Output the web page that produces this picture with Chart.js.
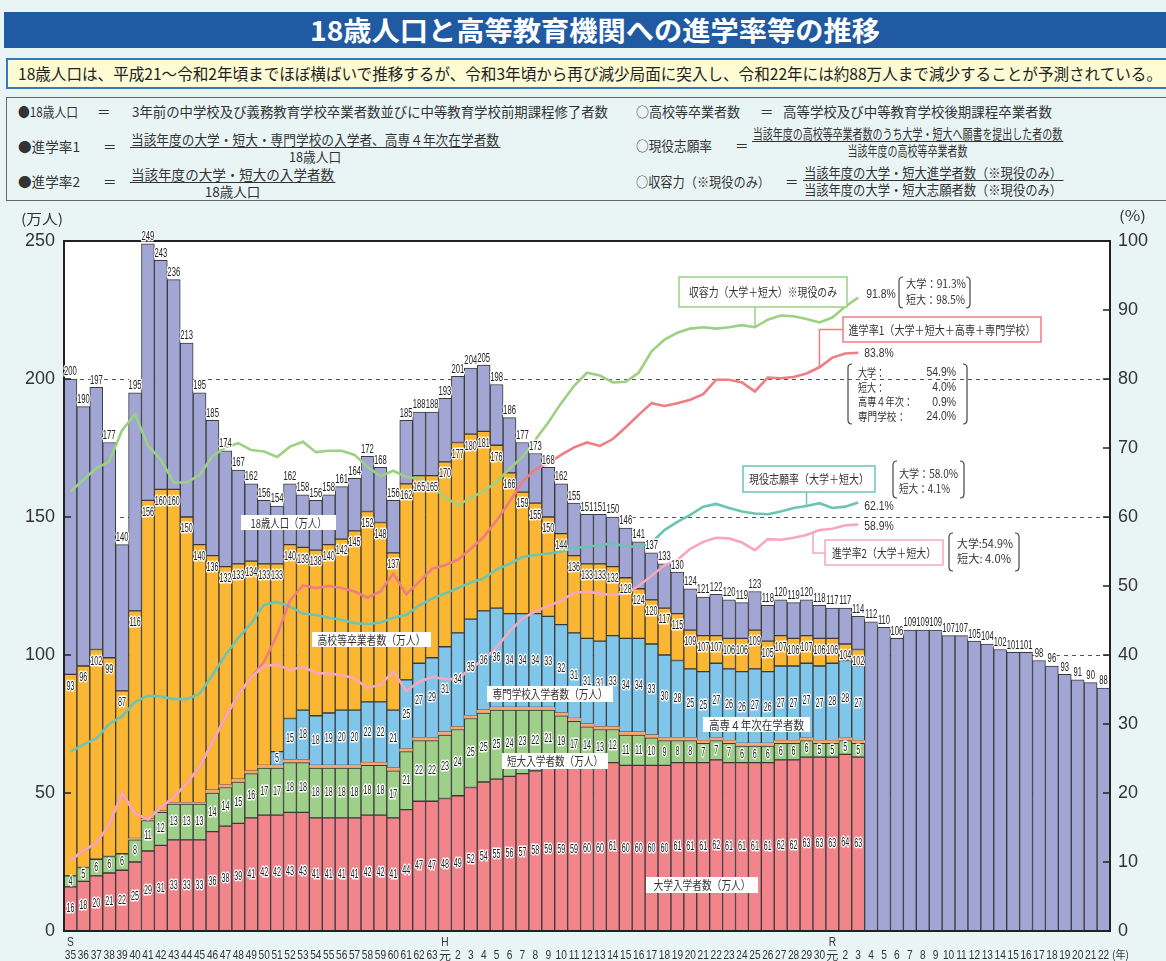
<!DOCTYPE html>
<html lang="ja">
<head>
<meta charset="utf-8">
<title>18歳人口と高等教育機関への進学率等の推移</title>
<script src="https://cdn.jsdelivr.net/npm/chart.js@4.4.1/dist/chart.umd.min.js"></script>
<style>
  html, body { margin: 0; padding: 0; }
  body { width: 1166px; height: 961px; background: #e9f5f5; overflow: hidden; position: relative;
         font-family: "Noto Sans CJK JP", "Noto Sans", sans-serif; color: #333; }
  .band { position: absolute; left: 4px; top: 12px; width: 1170px; height: 36px; background: #1f5aa2; }
  .lead { position: absolute; left: 6px; top: 58px; width: 1170px; height: 27px; background: #fffbd2; border: 2px solid #3a78bd; }
  .defs { position: absolute; left: 6px; top: 97px; width: 1170px; height: 102px; border: 1.5px solid #666; }
  .t { position: absolute; font-size: 13.5px; line-height: 16px; white-space: nowrap; transform-origin: left center; }
  .frac { position: absolute; font-size: 13.5px; line-height: 16px; white-space: nowrap; text-align: center; transform-origin: left center; }
  .frac .n { border-bottom: 1px solid #333; padding: 0 1px; }
  #wrap { position: absolute; left: 0; top: 205px; width: 1166px; height: 756px; }
</style>
</head>
<body>
<div class="band"></div>
<div class="t" data-w="570" style="left:310px;top:12px;line-height:36px;font-size:27px;font-weight:bold;color:#fff;">18歳人口と高等教育機関への進学率等の推移</div>

<div class="lead"></div>
<div class="t" data-w="1144" style="left:18px;top:60px;line-height:27px;font-size:16px;color:#222;">18歳人口は、平成21～令和2年頃までほぼ横ばいで推移するが、令和3年頃から再び減少局面に突入し、令和22年には約88万人まで減少することが予測されている。</div>

<div class="defs"></div>
<div class="t" data-w="60" style="left:18px;top:103px;">●18歳人口</div>
<div class="t" style="left:97px;top:103px;">＝</div>
<div class="t" data-w="476" style="left:132px;top:103px;">3年前の中学校及び義務教育学校卒業者数並びに中等教育学校前期課程修了者数</div>
<div class="t" data-w="104" style="left:636px;top:103px;">○高校等卒業者数</div>
<div class="t" style="left:760px;top:103px;">＝</div>
<div class="t" data-w="269" style="left:783px;top:103px;">高等学校及び中等教育学校後期課程卒業者数</div>

<div class="t" data-w="62" style="left:18px;top:138px;">●進学率1</div>
<div class="t" style="left:103px;top:138px;">＝</div>
<div class="frac" data-w="370" style="left:130px;top:131px;"><div class="n">当該年度の大学・短大・専門学校の入学者、高専４年次在学者数</div><div>18歳人口</div></div>
<div class="t" data-w="76" style="left:636px;top:137px;">○現役志願率</div>
<div class="t" style="left:735px;top:137px;">＝</div>
<div class="frac" data-w="311" style="left:752px;top:125px;"><div class="n">当該年度の高校等卒業者数のうち大学・短大へ願書を提出した者の数</div><div>当該年度の高校等卒業者数</div></div>

<div class="t" data-w="62" style="left:18px;top:173px;">●進学率2</div>
<div class="t" style="left:103px;top:173px;">＝</div>
<div class="frac" data-w="205" style="left:130px;top:166px;"><div class="n">当該年度の大学・短大の入学者数</div><div>18歳人口</div></div>
<div class="t" data-w="134" style="left:636px;top:173px;">○収容力（※現役のみ）</div>
<div class="t" style="left:785px;top:173px;">＝</div>
<div class="frac" data-w="260" style="left:803px;top:164px;"><div class="n">当該年度の大学・短大進学者数（※現役のみ）</div><div>当該年度の大学・短大志願者数（※現役のみ）</div></div>

<div id="wrap"><canvas id="c" width="1166" height="756"></canvas></div>

<script>
// squeeze header texts to the widths they take in the original
document.querySelectorAll('[data-w]').forEach(el => {
  const w = el.getBoundingClientRect().width;
  el.style.transform = 'scaleX(' + (Number(el.dataset.w) / w) + ')';
});

const categories = [
  'S35','S36','S37','S38','S39','S40','S41','S42','S43','S44','S45','S46','S47','S48','S49',
  'S50','S51','S52','S53','S54','S55','S56','S57','S58','S59','S60','S61','S62','S63',
  'H1','H2','H3','H4','H5','H6','H7','H8','H9','H10','H11','H12','H13','H14','H15',
  'H16','H17','H18','H19','H20','H21','H22','H23','H24','H25','H26','H27','H28','H29','H30',
  'R1','R2','R3','R4','R5','R6','R7','R8','R9','R10','R11','R12','R13','R14','R15',
  'R16','R17','R18','R19','R20','R21','R22'
];

// 18歳人口（万人）
const population = [
  200,190,197,177,140,195,249,243,236,213,195,185,174,167,162,156,154,162,158,156,158,161,164,172,168,156,185,188,188,
  193,201,204,205,198,186,177,173,168,162,155,151,151,150,146,141,137,133,130,124,121,122,120,119,123,118,120,119,120,118,
  117,117,114,112,110,106,109,109,109,107,107,105,104,102,101,101,98,96,93,91,90,88
];
// 高校等卒業者数（万人）
const graduates = [
  93,96,102,99,87,116,156,160,160,150,140,136,132,133,134,133,133,140,139,138,140,142,145,152,148,137,162,165,165,
  170,177,180,181,176,166,159,155,150,144,136,133,133,132,128,124,120,117,115,109,107,107,106,106,109,105,107,106,107,106,
  106,104,102
];
// 大学入学者数（万人）
const univ = [
  16,18,20,21,22,25,29,31,33,33,33,36,38,39,41,42,42,43,43,41,41,41,41,42,42,41,44,47,47,
  48,49,52,54,55,56,57,58,59,59,59,60,60,61,60,60,60,60,61,61,61,62,61,61,61,61,62,62,63,63,
  63,64,63
];
// 短大入学者数（万人）
const junior = [
  4,5,6,6,6,8,11,12,13,13,13,14,14,15,16,17,17,18,18,18,18,18,18,18,18,17,21,22,22,
  23,24,25,25,25,24,23,22,21,19,17,14,13,12,11,11,10,9,8,8,7,7,7,6,6,6,6,6,6,5,
  5,5,5
];
// 高専4年次在学者数（万人）
const kosen = [
  null,null,null,null,null,0.5,0.5,0.5,0.5,0.5,0.5,1,1,1,1,1,1,1,1,1,1,1,1,1,1,1,1,1,1,
  1,1,1,1,1,1,1,1,1,1,1,1,1,1,1,1,1,1,1,1,1,1,1,1,1,1,1,1,1,1,
  1,1,1
];
// 専門学校入学者数（万人）
const vocational = [
  null,null,null,null,null,null,null,null,null,null,null,null,null,null,null,null,5,15,18,18,19,20,20,22,22,21,25,27,29,
  31,34,35,36,36,34,34,34,33,32,31,31,31,33,34,34,33,30,28,25,25,27,26,26,27,26,27,27,27,27,
  28,28,27
];
// 進学率1（%）
const rate1 = [
  10.2,11.7,12.7,15.4,20.0,17.0,16.2,17.9,19.4,21.4,23.8,27.4,31.0,34.2,36.8,39.0,42.9,47.9,50.1,49.7,50.0,49.7,49.2,48.3,49.2,51.8,48.8,50.6,52.5,
  53.0,53.8,55.4,57.1,59.5,62.2,65.1,66.9,67.8,69.0,70.1,70.8,70.3,71.3,73.0,74.8,76.5,76.1,76.5,77.0,77.8,79.9,79.9,79.5,78.2,80.2,80.1,80.3,80.8,81.7,
  83.1,83.7,83.8
];
// 進学率2（%）
const rate2 = [
  10.2,11.7,12.7,15.4,20.0,17.0,16.2,17.9,19.4,21.4,23.8,27.4,31.0,34.2,36.8,38.4,38.6,37.8,38.3,37.4,37.3,37.1,36.6,35.2,35.7,37.6,34.8,36.1,36.8,
  36.5,36.5,38.1,39.3,41.1,43.4,45.3,46.3,47.1,47.9,49.0,49.2,48.9,48.7,48.9,50.0,51.5,53.0,53.8,55.4,56.4,57.0,56.9,56.3,55.2,56.8,56.7,57.0,57.4,58.1,
  58.3,58.8,58.9
];
// 現役志願率（%）
const applyRate = [
  26.0,27.0,27.9,30.0,31.1,33.2,34.1,34.0,33.6,33.6,34.4,37.1,40.0,42.5,44.6,47.3,47.7,47.0,46.0,45.8,45.4,45.1,44.6,44.5,44.7,45.4,45.8,47.2,48.2,
  48.9,49.7,50.5,51.1,52.4,53.2,54.2,54.5,54.7,55.0,55.5,55.7,55.9,56.2,55.7,55.7,56.3,58.1,59.3,60.3,61.5,61.9,61.3,60.8,60.5,60.4,60.8,61.3,61.6,62.0,
  61.3,61.5,62.1
];
// 収容力（%）
const capacity = [
  63.7,65.4,67.1,68.0,72.6,74.9,70.4,68.3,65.0,65.0,66.1,68.8,70.1,70.7,69.7,69.5,68.7,70.2,70.9,69.4,69.6,69.6,69.0,67.3,65.9,66.7,65.8,65.5,64.3,
  62.9,61.7,62.8,63.7,65.1,67.0,68.7,71.2,73.7,76.5,79.0,80.9,80.5,79.5,79.6,80.9,84.0,85.7,86.7,87.3,87.5,87.3,87.5,87.8,87.5,88.6,89.2,89.1,88.7,88.2,
  88.9,90.5,91.8
];

const leftTicks = [0, 50, 100, 150, 200, 250];
const rightTicks = [0, 10, 20, 30, 40, 50, 60, 70, 80, 90, 100];
const gridValues = [50, 100, 150, 200];

const COL = {
  univ: '#f2848b', junior: '#9fd08a', kosen: '#f5a775', voc: '#80c5ea', grad: '#fbb733', pop: '#a1a6d4',
  rate1: '#ef7d84', rate2: '#f5a8bd', cap: '#9bd181', apply: '#6cc4b2', edge: '#3a3a3a'
};
const OFF = 205;   // canvas top on the page
const NUM = '"Liberation Sans", Arial, sans-serif';
const JP = '"Noto Sans CJK JP", sans-serif';

// stacked pieces: what remains of the graduates and of the 18-year-olds
const gradRest = categories.map((_, i) => i < graduates.length
  ? graduates[i] - univ[i] - junior[i] - (kosen[i] || 0) - (vocational[i] || 0) : null);
const popRest = categories.map((_, i) => i < graduates.length ? population[i] - graduates[i] : population[i]);

function bar(label, data, color, bw) {
  return { type: 'bar', label, data, backgroundColor: color, borderColor: COL.edge, borderWidth: bw,
    borderSkipped: false, yAxisID: 'y', stack: 's', order: 10, categoryPercentage: 1, barPercentage: 1 };
}
function line(label, data, color, order) {
  return { type: 'line', label, data, borderColor: color, borderWidth: 2.6, pointRadius: 0, fill: false,
    tension: 0, yAxisID: 'y2', order };
}

function txt(ctx, s, x, y, o) {
  o = o || {};
  ctx.save();
  ctx.font = o.font || ('12px ' + JP);
  ctx.textBaseline = 'middle';
  ctx.textAlign = 'left';
  const w = ctx.measureText(s).width;
  const sx = o.w ? o.w / w : (o.sx || 1);
  const left = o.align === 'center' ? x - w * sx / 2 : o.align === 'right' ? x - w * sx : x;
  ctx.translate(left, y);
  ctx.scale(sx, 1);
  if (o.halo) {
    ctx.lineWidth = o.halo; ctx.strokeStyle = '#fff'; ctx.lineJoin = 'round';
    ctx.strokeText(s, 0, 0);
  }
  ctx.fillStyle = o.color || '#333';
  ctx.fillText(s, 0, 0);
  ctx.restore();
}

function num(ctx, v, x, y, sx) {
  txt(ctx, String(v), x, y, { font: '12px ' + NUM, sx: sx || 0.6, align: 'center', halo: 3, color: '#222' });
}

function bracket(ctx, x, y1, y2, dir) {
  const r = 4 * dir;
  ctx.beginPath();
  ctx.moveTo(x + r, y1);
  ctx.quadraticCurveTo(x, y1, x, y1 + 4);
  ctx.lineTo(x, y2 - 4);
  ctx.quadraticCurveTo(x, y2, x + r, y2);
  ctx.strokeStyle = '#444'; ctx.lineWidth = 1.2; ctx.setLineDash([]);
  ctx.stroke();
}

function tag(ctx, s, x1, y1, x2, y2, tw, border) {
  ctx.fillStyle = '#fff';
  ctx.fillRect(x1, y1, x2 - x1, y2 - y1);
  if (border) {
    ctx.lineWidth = 1.5; ctx.strokeStyle = border;
    ctx.strokeRect(x1, y1, x2 - x1, y2 - y1);
  }
  txt(ctx, s, (x1 + x2) / 2, (y1 + y2) / 2 + 0.5, { font: '12px ' + JP, w: tw, align: 'center' });
}

function polyline(ctx, pts, color) {
  ctx.beginPath();
  ctx.moveTo(pts[0][0], pts[0][1]);
  pts.slice(1).forEach(p => ctx.lineTo(p[0], p[1]));
  ctx.strokeStyle = color; ctx.lineWidth = 1.5; ctx.setLineDash([]);
  ctx.stroke();
}

const decor = {
  id: 'decor',
  beforeDraw(chart) {
    const { ctx, chartArea: a } = chart;
    ctx.save();
    ctx.fillStyle = '#fff';
    ctx.fillRect(a.left, a.top, a.right - a.left, a.bottom - a.top);
    ctx.restore();
  },
  beforeDatasetsDraw(chart) {
    const { ctx, chartArea: a, scales: { y } } = chart;
    ctx.save();
    ctx.strokeStyle = '#555'; ctx.lineWidth = 1; ctx.setLineDash([4, 4]);
    gridValues.forEach(v => {
      const p = Math.round(y.getPixelForValue(v)) + 0.5;
      ctx.beginPath(); ctx.moveTo(a.left, p); ctx.lineTo(a.right, p); ctx.stroke();
    });
    ctx.restore();
  },
  afterDatasetsDraw(chart) {
    const { ctx, chartArea: a, scales: { x, y, y2 } } = chart;
    ctx.save();

    // frame and inner ticks
    ctx.strokeStyle = '#222'; ctx.lineWidth = 2;
    ctx.strokeRect(a.left, a.top, a.right - a.left, a.bottom - a.top);
    ctx.lineWidth = 1.5;
    leftTicks.forEach(v => {
      const p = y.getPixelForValue(v);
      ctx.beginPath(); ctx.moveTo(a.left, p); ctx.lineTo(a.left + 7, p); ctx.stroke();
    });
    rightTicks.forEach(v => {
      const p = y2.getPixelForValue(v);
      ctx.beginPath(); ctx.moveTo(a.right - 7, p); ctx.lineTo(a.right, p); ctx.stroke();
    });

    // value labels on the bars
    categories.forEach((c, i) => {
      const cx = x.getPixelForValue(i);
      num(ctx, population[i], cx, y.getPixelForValue(population[i]) - 7, 0.64);
      if (i >= graduates.length) return;
      num(ctx, graduates[i], cx, y.getPixelForValue(graduates[i]) + 12);
      num(ctx, univ[i], cx, y.getPixelForValue(univ[i] / 2));
      num(ctx, junior[i], cx, y.getPixelForValue(univ[i] + junior[i] / 2));
      if (vocational[i] != null) {
        const base = univ[i] + junior[i] + (kosen[i] || 0);
        num(ctx, vocational[i], cx, y.getPixelForValue(base + vocational[i] / 2));
      }
    });

    // x axis labels
    categories.forEach((c, i) => {
      const cx = x.getPixelForValue(i);
      const era = c[0], yr = c.slice(1);
      if (i === 0 || yr === '1') txt(ctx, era, cx, 738, { font: '12px ' + NUM, sx: 0.85, align: 'center' });
      if (yr === '1') txt(ctx, '元', cx, 750.5, { font: '12px ' + JP, align: 'center' });
      else txt(ctx, yr, cx, 750.5, { font: '13.5px ' + NUM, sx: 0.75, align: 'center' });
    });
    txt(ctx, '(年)', a.right + 2, 750, { font: '11px ' + JP, w: 17 });

    // axis units
    txt(ctx, '(万人)', 21, 14, { font: '14px ' + JP, w: 42 });
    txt(ctx, '(%)', 1119, 11, { font: '14px ' + JP, w: 27 });

    // annotations, page coordinates from here
    ctx.translate(0, -OFF);
    const px = i => x.getPixelForValue(i);
    const py2 = v => y2.getPixelForValue(v) + OFF;

    tag(ctx, '18歳人口（万人）', 241, 515, 336, 530, 76);
    tag(ctx, '高校等卒業者数（万人）', 312, 632, 431, 647, 108);
    tag(ctx, '専門学校入学者数（万人）', 487, 686, 613, 702, 115);
    tag(ctx, '短大入学者数（万人）', 502, 753, 608, 769, 96);
    tag(ctx, '高専４年次在学者数', 703, 717, 810, 732, 95);
    tag(ctx, '大学入学者数（万人）', 646, 877, 758, 893, 97);

    // connectors from line tags to their lines
    const iH25 = categories.indexOf('H25'), iH29 = categories.indexOf('H29'), iH30 = categories.indexOf('H30');
    polyline(ctx, [[755, 307], [755, py2(capacity[iH25])]], COL.cap);
    polyline(ctx, [[843, 329.5], [px(iH30), 329.5], [px(iH30), py2(rate1[iH30])]], COL.rate1);
    polyline(ctx, [[px(iH29), 492], [px(iH29), py2(applyRate[iH29])]], COL.apply);
    const mx = (px(iH29) + px(iH30)) / 2, my = py2((rate2[iH29] + rate2[iH30]) / 2);
    polyline(ctx, [[825, 553], [mx, 553], [mx, my]], COL.rate2);

    tag(ctx, '収容力（大学＋短大）※現役のみ', 679, 277, 847, 307, 148, COL.cap);
    tag(ctx, '進学率1（大学＋短大＋高専＋専門学校）', 843, 317, 1041, 342, 187, COL.rate1);
    tag(ctx, '現役志願率（大学＋短大）', 743, 466, 875, 492, 120, COL.apply);
    tag(ctx, '進学率2（大学＋短大）', 825, 540, 943, 565, 104, COL.rate2);

    // end values
    const last = graduates.length - 1, ex = px(last) + 6;
    const pct = { font: '13px ' + NUM, sx: 0.8 };
    txt(ctx, '91.8%', ex + 2, py2(capacity[last]) - 3, pct);
    txt(ctx, '83.8%', ex, py2(rate1[last]) + 1, pct);
    txt(ctx, '62.1%', ex, py2(applyRate[last]) + 4, pct);
    txt(ctx, '58.9%', ex, py2(rate2[last]) + 2, pct);

    // breakdowns in brackets
    const small = '11.5px ' + JP;
    bracket(ctx, 899, 277, 308, 1); bracket(ctx, 970, 277, 308, -1);
    txt(ctx, '大学：91.3%', 906, 283.5, { font: small, w: 60 });
    txt(ctx, '短大：98.5%', 906, 300, { font: small, w: 59 });

    bracket(ctx, 848, 364, 424, 1); bracket(ctx, 967, 364, 424, -1);
    [['大学：', '54.9%', 27], ['短大：', '4.0%', 27], ['高専４年次：', '0.9%', 55], ['専門学校：', '24.0%', 48]]
      .forEach((r, k) => {
        const yy = 372.7 + k * 14.7;
        txt(ctx, r[0], 858, yy, { font: small, w: r[2] });
        txt(ctx, r[1], 956, yy, { font: '13px ' + NUM, sx: 0.8, align: 'right' });
      });

    bracket(ctx, 893, 461, 498, 1); bracket(ctx, 964, 461, 498, -1);
    txt(ctx, '大学：58.0%', 899, 473.3, { font: small, w: 59 });
    txt(ctx, '短大：4.1%', 899, 488.3, { font: small, w: 51 });

    bracket(ctx, 949, 533, 571, 1); bracket(ctx, 1019, 533, 571, -1);
    txt(ctx, '大学:54.9%', 957, 544, { font: small, w: 56 });
    txt(ctx, '短大: 4.0%', 957, 559, { font: small, w: 54 });

    ctx.restore();
  }
};

new Chart(document.getElementById('c'), {
  type: 'bar',
  data: {
    labels: categories,
    datasets: [
      bar('大学入学者数', univ, COL.univ, 1),
      bar('短大入学者数', junior, COL.junior, 1),
      bar('高専4年次在学者数', kosen, COL.kosen, 0),
      bar('専門学校入学者数', vocational, COL.voc, 1),
      bar('高校等卒業者数', gradRest, COL.grad, 1),
      bar('18歳人口', popRest, COL.pop, 1),
      line('現役志願率', applyRate, COL.apply, 5),
      line('収容力', capacity, COL.cap, 4),
      line('進学率1', rate1, COL.rate1, 3),
      line('進学率2', rate2, COL.rate2, 2)
    ]
  },
  options: {
    responsive: false,
    animation: false,
    layout: { padding: { top: 36, left: 0, right: 0, bottom: 0 } },
    plugins: { legend: { display: false }, tooltip: { enabled: false } },
    scales: {
      x: {
        stacked: true, offset: true,
        grid: { display: false, drawTicks: false }, border: { display: false },
        ticks: { display: false },
        afterFit: s => { s.height = 30; }
      },
      y: {
        stacked: true, position: 'left', min: 0, max: 250,
        grid: { display: false, drawTicks: false }, border: { display: false },
        afterBuildTicks: s => { s.ticks = leftTicks.map(v => ({ value: v })); },
        ticks: { padding: 9, color: '#333', font: { family: 'Liberation Sans', size: 18 } },
        afterFit: s => { s.width = 64; }
      },
      y2: {
        position: 'right', min: 0, max: 100,
        grid: { display: false, drawTicks: false }, border: { display: false },
        afterBuildTicks: s => { s.ticks = rightTicks.map(v => ({ value: v })); },
        ticks: { padding: 8, color: '#333', font: { family: 'Liberation Sans', size: 18 } },
        afterFit: s => { s.width = 56; }
      }
    }
  },
  plugins: [decor]
});
</script>
</body>
</html>
